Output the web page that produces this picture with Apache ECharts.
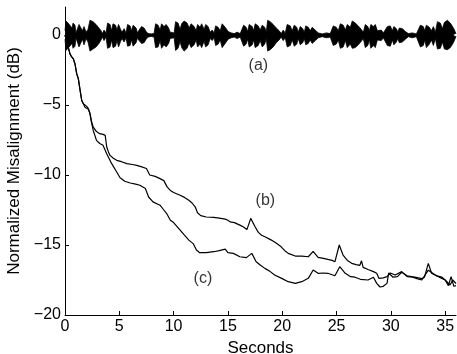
<!DOCTYPE html>
<html>
<head>
<meta charset="utf-8">
<script src="https://cdn.jsdelivr.net/npm/echarts@6/dist/echarts.min.js"></script>
<style>
  html, body { margin: 0; padding: 0; background: #fff; }
  #chart { width: 457px; height: 354px; }
</style>
</head>
<body>
<div id="chart"></div>
<script>
// speech signal (a): envelope, seconds / dB
const speechTime = [0,0.09,0.28,0.46,0.65,0.74,0.92,1.01,1.15,1.29,1.47,1.61,1.75,1.94,2.12,2.30,2.58,2.86,3.13,3.32,3.46,3.59,3.78,3.92,4.15,4.29,4.42,4.65,4.79,4.93,5.12,5.25,5.44,5.62,5.76,5.99,6.13,6.27,6.54,6.68,6.82,7.05,7.28,7.47,7.65,7.93,8.20,8.34,8.57,8.76,8.89,9.12,9.31,9.54,9.68,9.86,10.05,10.18,10.41,10.60,10.74,10.97,11.24,11.43,11.61,11.89,12.07,12.21,12.44,12.58,12.81,12.95,13.18,13.36,13.55,13.73,13.87,14.10,14.29,14.47,14.75,15.02,15.30,15.58,15.85,16.13,16.31,16.45,16.68,16.82,16.96,17.24,17.37,17.51,17.79,17.97,18.16,18.39,18.53,18.66,18.89,19.17,19.45,19.72,19.91,20.09,20.28,20.46,20.74,20.92,21.11,21.34,21.47,21.66,21.89,22.03,22.17,22.40,22.58,22.76,23.04,23.32,23.69,24.06,24.42,24.70,24.98,25.16,25.35,25.62,25.81,25.99,26.27,26.45,26.73,27.00,27.28,27.47,27.65,27.88,28.02,28.16,28.39,28.57,28.76,28.94,29.12,29.31,29.68,29.95,30.14,30.28,30.51,30.65,30.78,31.06,31.34,31.61,31.98,32.35,32.72,32.99,33.13,33.27,33.55,33.73,33.92,34.10,34.29,34.56,34.75,34.93,35.21,35.48,35.76,36.0];
const speechUpper = [0.3,1.0,0.85,0.8,0.5,0.85,0.7,0.15,0.2,0.75,0.7,0.3,0.6,0.2,0.4,1.05,0.95,0.75,0.5,0.3,0.1,0.35,0.15,0.85,0.75,0.3,0.8,0.7,0.35,0.75,0.4,0.2,0.45,0.15,0.75,0.65,0.3,0.7,0.5,0.15,0.35,0.6,0.5,0.25,0.1,0.08,0.1,0.8,0.7,0.35,0.8,0.6,0.75,0.5,0.2,0.3,0.15,0.95,0.85,0.4,0.8,1.0,0.85,0.5,0.8,0.6,0.3,0.75,0.55,0.8,0.4,0.75,0.6,0.2,0.35,0.15,0.65,0.55,0.3,0.8,0.55,0.25,0.15,0.1,0.2,0.1,0.05,0.7,0.55,0.25,0.75,0.6,0.3,0.8,0.65,0.35,0.7,0.55,0.2,1.05,0.95,0.75,0.5,0.3,0.1,0.35,0.15,0.75,0.65,0.3,0.7,0.55,0.2,0.6,0.45,0.2,0.65,0.55,0.3,0.55,0.35,0.15,0.08,0.15,0.1,0.65,0.55,0.3,0.8,0.7,0.35,0.75,0.55,1.0,0.85,0.65,0.4,0.2,0.75,0.6,0.3,0.75,0.6,0.75,0.3,0.2,0.35,0.15,0.6,0.65,0.3,0.6,0.45,0.2,0.5,0.45,0.25,0.1,0.15,0.08,0.7,0.6,0.3,0.7,0.55,0.3,0.6,0.2,0.95,0.85,0.45,0.9,1.05,0.85,0.5,0.1];
const speechLower = [-0.3,-1.1,-0.95,-0.9,-0.6,-0.95,-0.8,-0.2,-0.25,-0.85,-0.8,-0.3,-0.7,-0.25,-0.5,-1.15,-1.0,-0.85,-0.6,-0.35,-0.15,-0.4,-0.15,-0.95,-0.85,-0.35,-0.9,-0.8,-0.4,-0.85,-0.45,-0.25,-0.5,-0.2,-0.8,-0.75,-0.35,-0.8,-0.55,-0.2,-0.4,-0.6,-0.55,-0.3,-0.15,-0.1,-0.15,-0.9,-0.85,-0.4,-0.95,-0.7,-0.85,-0.6,-0.25,-0.35,-0.2,-1.1,-0.95,-0.45,-0.9,-1.15,-0.95,-0.55,-0.9,-0.7,-0.35,-0.85,-0.65,-0.9,-0.45,-0.85,-0.7,-0.25,-0.4,-0.2,-0.75,-0.65,-0.35,-0.9,-0.6,-0.3,-0.2,-0.15,-0.25,-0.15,-0.1,-0.8,-0.65,-0.3,-0.85,-0.7,-0.35,-0.9,-0.75,-0.4,-0.85,-0.65,-0.25,-1.15,-1.05,-0.85,-0.55,-0.35,-0.15,-0.4,-0.2,-0.85,-0.75,-0.35,-0.8,-0.65,-0.25,-0.7,-0.55,-0.25,-0.7,-0.6,-0.35,-0.6,-0.4,-0.2,-0.12,-0.2,-0.15,-0.75,-0.65,-0.35,-0.95,-0.85,-0.4,-0.9,-0.65,-0.95,-0.9,-0.7,-0.45,-0.25,-0.9,-0.75,-0.35,-0.95,-0.75,-0.9,-0.35,-0.25,-0.4,-0.2,-0.75,-0.8,-0.35,-0.7,-0.5,-0.25,-0.55,-0.5,-0.3,-0.12,-0.2,-0.12,-0.85,-0.75,-0.35,-0.9,-0.65,-0.35,-0.75,-0.25,-1.0,-0.95,-0.5,-1.0,-1.05,-0.9,-0.55,-0.1];

// curve (b)
const curveB = [[0,0],[0.1,-0.3],[0.3,-0.88],[0.46,-1.35],[0.6,-1.55],[0.77,-1.71],[0.92,-2.07],[1.08,-2.78],[1.23,-3.13],[1.38,-3.9],[1.54,-4.68],[1.69,-4.91],[1.84,-4.95],[2.0,-5.1],[2.15,-5.25],[2.3,-5.6],[2.45,-6.2],[2.6,-6.58],[2.9,-6.9],[3.2,-7.05],[3.5,-7.1],[3.7,-7.17],[3.84,-8.0],[4.0,-8.35],[4.15,-8.6],[4.45,-8.8],[4.76,-8.95],[5.2,-9.05],[5.7,-9.19],[6.2,-9.25],[6.6,-9.31],[7.0,-9.4],[7.5,-9.54],[7.8,-10.0],[8.3,-10.1],[8.75,-10.26],[9.1,-10.4],[9.4,-10.85],[9.7,-11.1],[10.0,-11.25],[10.6,-11.45],[11.0,-11.6],[11.4,-11.8],[11.7,-12.0],[12.0,-12.3],[12.2,-12.7],[12.5,-12.9],[13.0,-13.0],[13.7,-13.03],[14.2,-13.08],[14.75,-13.15],[15.0,-13.23],[15.2,-13.35],[15.6,-13.4],[16.1,-13.58],[16.4,-13.7],[16.75,-13.9],[17.1,-13.1],[17.5,-13.7],[17.8,-14.1],[18.1,-14.3],[18.5,-14.45],[19.0,-14.65],[19.5,-14.9],[19.9,-15.13],[20.3,-15.45],[20.55,-15.6],[21.2,-15.79],[21.8,-15.8],[22.4,-15.84],[22.85,-15.45],[23.3,-15.88],[23.8,-15.95],[24.2,-16.03],[24.6,-16.1],[24.85,-16.2],[25.25,-15.0],[25.6,-15.72],[26.0,-16.1],[26.4,-16.31],[26.8,-16.4],[27.15,-16.45],[27.3,-16.13],[27.45,-16.6],[27.9,-16.75],[28.4,-16.9],[28.7,-17.02],[28.9,-17.38],[29.3,-17.35],[29.65,-17.26],[29.95,-17.0],[30.4,-17.14],[31.0,-16.9],[31.5,-17.26],[32.2,-17.3],[32.85,-17.4],[33.1,-17.3],[33.45,-16.31],[33.75,-17.02],[34.2,-17.2],[34.7,-17.3],[35.0,-17.5],[35.3,-17.9],[35.55,-17.26],[35.8,-17.95],[36.0,-17.9]];

// curve (c)
const curveC = [[0,0],[0.1,-0.3],[0.3,-0.88],[0.46,-1.35],[0.6,-1.55],[0.77,-1.71],[0.92,-2.07],[1.08,-2.78],[1.23,-3.13],[1.38,-3.9],[1.54,-4.68],[1.69,-4.91],[1.84,-5.16],[2.0,-5.2],[2.15,-5.3],[2.3,-5.63],[2.45,-6.3],[2.6,-6.82],[2.9,-7.53],[3.2,-7.75],[3.5,-7.88],[3.84,-8.48],[4.3,-9.19],[4.76,-9.79],[5.07,-10.2],[5.5,-10.45],[6.0,-10.57],[6.5,-10.65],[6.9,-10.73],[7.4,-10.97],[7.7,-11.57],[8.1,-11.92],[8.75,-12.16],[9.1,-12.5],[9.4,-12.8],[9.7,-13.23],[10.0,-13.4],[10.6,-13.94],[11.0,-14.3],[11.4,-14.65],[11.8,-14.9],[12.1,-15.36],[12.4,-15.55],[13.0,-15.55],[13.7,-15.48],[14.2,-15.4],[14.75,-15.3],[15.0,-15.55],[15.5,-15.6],[16.1,-15.84],[16.7,-15.9],[17.2,-15.6],[17.6,-16.2],[18.0,-16.45],[18.4,-16.67],[18.9,-16.9],[19.3,-17.14],[20.0,-17.4],[20.55,-17.62],[21.2,-17.74],[21.8,-17.62],[22.4,-17.38],[22.85,-16.79],[23.3,-17.02],[23.8,-17.0],[24.2,-17.02],[24.85,-17.2],[25.3,-16.55],[25.8,-17.02],[26.3,-17.26],[26.7,-17.3],[27.2,-17.45],[27.9,-17.5],[28.4,-17.3],[28.7,-17.74],[29.0,-18.0],[29.3,-17.95],[29.65,-17.74],[29.8,-17.0],[30.2,-17.3],[30.6,-17.26],[31.0,-16.95],[31.5,-17.2],[31.9,-17.26],[32.4,-17.4],[32.85,-17.5],[33.45,-16.8],[34.1,-17.14],[34.6,-17.35],[35.0,-17.5],[35.45,-17.86],[35.7,-17.5],[36.0,-17.75]];

const xTicks = [0, 5, 10, 15, 20, 25, 30, 35];
const yTicks = [-20, -15, -10, -5, 0];

// annotation labels, placed in data units
const notes = [
  {name: '(a)', value: [17.8, -2.2]},
  {name: '(b)', value: [18.45, -11.85]},
  {name: '(c)', value: [12.7, -17.4]}
];

const chart = echarts.init(document.getElementById('chart'));
const font = 'Liberation Sans, Arial, sans-serif';

const axisCommon = {
  type: 'value',
  axisLine: {show: true, onZero: false, lineStyle: {color: '#000', width: 1}},
  axisTick: {show: true, inside: true, length: 4, lineStyle: {color: '#000'}},
  splitLine: {show: false},
  nameTextStyle: {color: '#000', fontFamily: font, fontSize: 17}
};

const option = {
  animation: false,
  backgroundColor: '#fff',
  grid: {left: 65, top: 7, width: 391, height: 308, outerBoundsMode: 'none'},
  xAxis: Object.assign({}, axisCommon, {
    min: 0, max: 36,
    name: 'Seconds', nameLocation: 'middle', nameGap: 23,
    axisTick: Object.assign({}, axisCommon.axisTick, {customValues: xTicks}),
    axisLabel: {customValues: xTicks, color: '#000', fontFamily: font, fontSize: 16, margin: 4}
  }),
  yAxis: Object.assign({}, axisCommon, {
    min: -20, max: 2, interval: 5,
    name: 'Normalized Misalignment (dB)', nameLocation: 'middle', nameGap: 42,
    axisTick: Object.assign({}, axisCommon.axisTick, {customValues: yTicks}),
    axisLabel: {
      color: '#000', fontFamily: font, fontSize: 16, margin: 4,
      // the top of the axis (2) gets no label
      formatter: v => v > 0 ? '' : String(v).replace('-', '\u2212')
    }
  }),
  series: [
    {
      type: 'line', data: speechTime.map((t, i) => [t, speechUpper[i]]),
      symbol: 'none', lineStyle: {color: '#000', width: 0.8},
      areaStyle: {color: '#000', opacity: 1}
    },
    {
      type: 'line', data: speechTime.map((t, i) => [t, speechLower[i]]),
      symbol: 'none', lineStyle: {color: '#000', width: 0.8},
      areaStyle: {color: '#000', opacity: 1}
    },
    {type: 'line', data: curveB, symbol: 'none', lineStyle: {color: '#000', width: 1.2}},
    {type: 'line', data: curveC, symbol: 'none', lineStyle: {color: '#000', width: 1.2}},
    {
      type: 'scatter', data: notes, symbolSize: 0,
      label: {
        show: true, position: 'inside', formatter: p => p.name,
        color: '#000', fontFamily: font, fontSize: 16
      }
    }
  ]
};

chart.setOption(option);
</script>
</body>
</html>
